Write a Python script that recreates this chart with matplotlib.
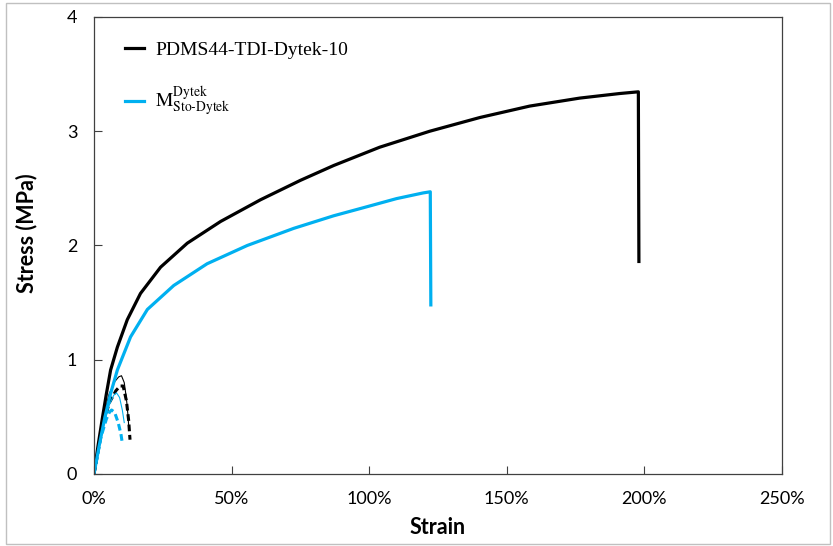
import matplotlib
matplotlib.use("Agg")
import matplotlib.pyplot as plt
from matplotlib.ticker import FuncFormatter
from matplotlib.patches import Rectangle

# main curves (strain in %, stress in MPa)
black_strain = [0, 1.5, 3.0, 4.5, 6.05, 8.5, 12.1, 16.9, 24.2, 33.9, 46.0, 60.5, 75.0,
                87.1, 103.8, 122.0, 140.2, 158.3, 176.5, 191.0, 197.8, 198.0]
black_stress = [0, 0.25, 0.48, 0.70, 0.91, 1.11, 1.35, 1.58, 1.81, 2.02, 2.21, 2.40, 2.57,
                2.70, 2.86, 3.00, 3.12, 3.22, 3.29, 3.33, 3.345, 1.86]

blue_strain = [0, 2.0, 4.0, 6.0, 8.5, 13.3, 19.4, 29.0, 41.1, 55.7, 72.6, 87.1, 97.8,
               109.9, 119.6, 122.2, 122.4]
blue_stress = [0, 0.26, 0.50, 0.70, 0.91, 1.20, 1.44, 1.65, 1.84, 2.00, 2.15, 2.26, 2.33,
               2.41, 2.46, 2.47, 1.48]

# short replicate runs near the origin
thin_black_strain = [0, 3, 5.5, 7.6, 9.0, 10.0, 11.0, 11.8, 12.4, 12.7]
thin_black_stress = [0, 0.46, 0.70, 0.81, 0.85, 0.86, 0.80, 0.66, 0.50, 0.39]
dash_black_strain = [0, 3, 5.5, 8, 9.5, 10.6, 11.8, 12.6, 13.1]
dash_black_stress = [0, 0.40, 0.62, 0.73, 0.77, 0.77, 0.64, 0.47, 0.30]
thin_blue_strain = [0, 3, 5.5, 7.2, 8.2, 9.3, 10.3, 11.0]
thin_blue_stress = [0, 0.38, 0.60, 0.69, 0.71, 0.67, 0.56, 0.45]
dash_blue_strain = [0, 2.5, 4.5, 5.6, 6.4, 7.5, 8.8, 9.8, 10.3]
dash_blue_stress = [0, 0.32, 0.48, 0.54, 0.56, 0.54, 0.45, 0.35, 0.27]

BLUE = "#00b0f0"
SANS = "Lato"

plt.rcParams["mathtext.fontset"] = "stix"

fig = plt.figure(figsize=(8.33, 5.46), dpi=100)
ax = fig.add_axes([0.1128, 0.1319, 0.826, 0.837])

ax.plot(thin_black_strain, thin_black_stress, color="black", lw=0.8)
ax.plot(dash_black_strain, dash_black_stress, color="black", lw=2.2, ls=(0, (2.2, 1.2)))
ax.plot(thin_blue_strain, thin_blue_stress, color=BLUE, lw=0.8)
ax.plot(dash_blue_strain, dash_blue_stress, color=BLUE, lw=2.2, ls=(0, (2.2, 1.2)))
l1, = ax.plot(black_strain, black_stress, color="black", lw=2.3, solid_joinstyle="round")
l2, = ax.plot(blue_strain, blue_stress, color=BLUE, lw=2.3, solid_joinstyle="round")

ax.set_xlim(0, 250)
ax.set_ylim(0, 4)
ax.set_xticks([0, 50, 100, 150, 200, 250])
ax.set_yticks([0, 1, 2, 3, 4])
ax.xaxis.set_major_formatter(FuncFormatter(lambda v, p: f"{v:.0f}%"))
ax.tick_params(direction="in", length=6, width=0.8, colors="#404040",
               labelcolor="black", labelsize=13, pad=12)
for lab in ax.get_xticklabels() + ax.get_yticklabels():
    lab.set_family(SANS)
for s in ax.spines.values():
    s.set_color("#404040")
    s.set_linewidth(0.9)

ax.set_xlabel("Strain", family=SANS, fontweight="bold", fontsize=15.5)
ax.set_ylabel("Stress (MPa)", family=SANS, fontweight="bold", fontsize=15.5)
ax.xaxis.set_label_coords(0.5, -0.095)
ax.yaxis.set_label_coords(-0.082, 0.527)

ax.legend([l1, l2],
          ["PDMS44-TDI-Dytek-10",
           r"$\mathrm{M}^{\mathrm{Dytek}}_{\text{Sto-Dytek}}$"],
          loc="upper left", bbox_to_anchor=(0.02, 0.985), frameon=False,
          prop={"family": "Liberation Serif", "size": 14},
          handlelength=0.95, handletextpad=0.6, labelspacing=1.35)

fig.add_artist(Rectangle((0.007, 0.004), 0.989, 0.99, transform=fig.transFigure,
                         fill=False, edgecolor="#c0c0c0", lw=1))

fig.savefig("out.png", dpi=100)
